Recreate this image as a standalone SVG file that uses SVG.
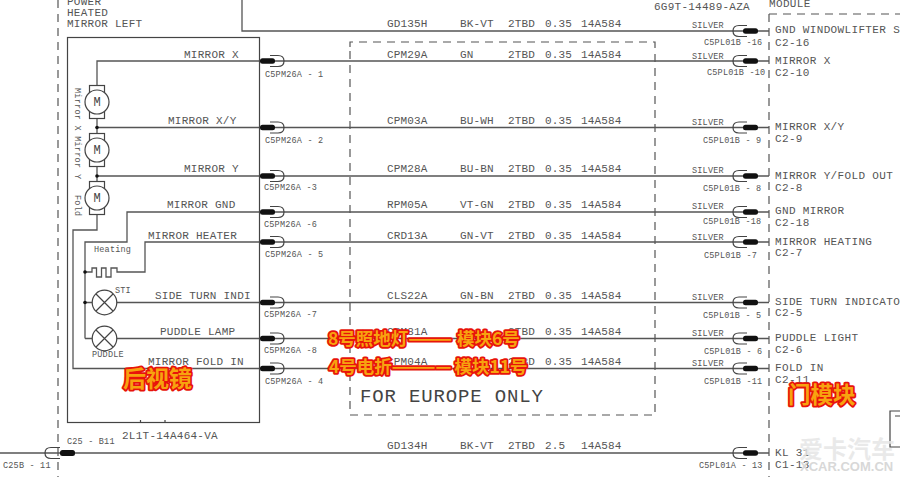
<svg xmlns="http://www.w3.org/2000/svg" width="900" height="477" viewBox="0 0 900 477">
<style>
text{font-family:"Liberation Mono","DejaVu Sans Mono",monospace;fill:#555}
.w{fill:none;stroke:#555;stroke-width:1.3}
.b{fill:none;stroke:#444;stroke-width:1.2}
.f{fill:#fff;stroke:#444;stroke-width:1.2}
.d{fill:none;stroke:#555;stroke-width:1.2;stroke-dasharray:8 6}
.l{font-size:11px;letter-spacing:.25px}
.s{font-size:8.5px;letter-spacing:.2px}
.r{font-size:11px;letter-spacing:.35px}
.wl{font-size:11px;letter-spacing:.15px}
.m{font-size:12px;fill:#444;text-anchor:middle}
.v{font-size:8.5px;letter-spacing:.25px}
.big{font-size:19px;letter-spacing:.85px;fill:#444}
.cn{font-family:"Noto Sans CJK SC",sans-serif;font-weight:700;fill:#f7a30f;stroke:#e8140a;stroke-width:3.6px;paint-order:stroke;stroke-linejoin:round}
</style>
<defs>
<g id="pl"><path d="M270-5.500h8q6 0 6 5.500t-6 5.500h-8" class="b"/><rect x="260" y="-2.800" width="15" height="5.600" rx="2.500" fill="#111"/></g>
<g id="pr"><path d="M747-5.500h-8q-6 0-6 5.500t6 5.500h8" class="b"/><rect x="743" y="-2.800" width="15" height="5.600" rx="2.500" fill="#111"/></g>
<g id="mot"><rect x="-7.500" y="-16.500" width="15" height="33" class="f"/><circle r="12" class="f"/><text y="4" class="m">M</text></g>
<g id="lamp"><circle r="12.300" class="f"/><path d="M-8.500-8.500 8.500 8.500M-8.500 8.500 8.500-8.500" class="b"/></g>
</defs>
<rect width="900" height="477" fill="#fff"/>
<g id="connectors">
<path class="d" d="M58 0V477"/>
<path class="d" d="M350 47V42H655V415H350V47"/>
<path class="d" d="M769 14H900M769 14V477"/>
<path class="w" d="M242 0V31H769"/>
<path class="w" d="M97 216V61H769M97 127.500H769M97 176H769"/>
<path class="w" d="M85 338.500V242H127V212H769"/>
<path class="w" d="M97 216V230H73V368.500H769"/>
<path class="w" d="M85 272H92V268H96.500V277H101.500V268H106V277H111V268H117V272H145V242H769"/>
<path class="w" d="M85 302.500H769M85 338.500H769"/>
<path class="w" d="M0 453H769"/>
<circle cx="97" cy="127.500" r="1.800" fill="#111"/><circle cx="97" cy="176" r="1.800" fill="#111"/>
<circle cx="85" cy="272" r="1.800" fill="#111"/><circle cx="85" cy="302.500" r="1.800" fill="#111"/>
</g>
<g id="mirror-housing">
<rect x="67.500" y="37.500" width="192" height="385" class="b"/>
<path class="b" d="M140.500 422V420M165 422V420"/>
<text x="122" y="439" class="l">2L1T-14A464-VA</text>
<text x="67" y="5" class="l">POWER</text><text x="67" y="16" class="l">HEATED</text><text x="67" y="27" class="l">MIRROR LEFT</text>
</g>
<g id="motors">
<use href="#mot" x="97" y="102"/><use href="#mot" x="97" y="150"/><use href="#mot" x="97" y="198"/>
<text class="v" transform="translate(75 88) rotate(90)">Mirror X Mirror</text>
<text class="v" transform="translate(75 174) rotate(90)">Y</text>
<text class="v" transform="translate(75 195) rotate(90)">Fold</text>
</g>
<g id="heater"><text x="94" y="252" class="s">Heating</text></g>
<g id="sti"><use href="#lamp" x="104.500" y="302.500"/><text x="115" y="293" class="s">STI</text></g>
<g id="puddle"><use href="#lamp" x="104.500" y="338.500"/><text x="92" y="357" class="s">PUDDLE</text></g>
<g id="mirror-labels">
<text x="184" y="58" class="l">MIRROR X</text>
<text x="168" y="124" class="l">MIRROR X/Y</text>
<text x="184" y="172" class="l">MIRROR Y</text>
<text x="167" y="208" class="l">MIRROR GND</text>
<text x="148" y="239" class="l">MIRROR HEATER</text>
<text x="155" y="299" class="l">SIDE TURN INDI</text>
<text x="160" y="335" class="l">PUDDLE LAMP</text>
<text x="148" y="365" class="l">MIRROR FOLD IN</text>
</g>
<g id="left-connectors">
<use href="#pl" y="61"/><use href="#pl" y="127.500"/><use href="#pl" y="176"/><use href="#pl" y="212"/><use href="#pl" y="242"/><use href="#pl" y="302.500"/><use href="#pl" y="338.500"/><use href="#pl" y="368.500"/>
<text x="265" y="77" class="s">C5PM26A - 1</text>
<text x="265" y="143" class="s">C5PM26A - 2</text>
<text x="264" y="190" class="s">C5PM26A -3</text>
<text x="264" y="227" class="s">C5PM26A -6</text>
<text x="265" y="257" class="s">C5PM26A - 5</text>
<text x="264" y="317" class="s">C5PM26A -7</text>
<text x="264" y="353" class="s">C5PM26A -8</text>
<text x="265" y="384" class="s">C5PM26A - 4</text>
</g>
<g id="wire-labels">
<text x="387" y="27" class="wl">GD135H</text><text x="460" y="27" class="wl">BK-VT</text><text x="508" y="27" class="wl">2TBD</text><text x="545" y="27" class="wl">0.35</text><text x="581" y="27" class="wl">14A584</text>
<text x="387" y="58" class="wl">CPM29A</text><text x="460" y="58" class="wl">GN</text><text x="508" y="58" class="wl">2TBD</text><text x="545" y="58" class="wl">0.35</text><text x="581" y="58" class="wl">14A584</text>
<text x="387" y="124" class="wl">CPM03A</text><text x="460" y="124" class="wl">BU-WH</text><text x="508" y="124" class="wl">2TBD</text><text x="545" y="124" class="wl">0.35</text><text x="581" y="124" class="wl">14A584</text>
<text x="387" y="172" class="wl">CPM28A</text><text x="460" y="172" class="wl">BU-BN</text><text x="508" y="172" class="wl">2TBD</text><text x="545" y="172" class="wl">0.35</text><text x="581" y="172" class="wl">14A584</text>
<text x="387" y="208" class="wl">RPM05A</text><text x="460" y="208" class="wl">VT-GN</text><text x="508" y="208" class="wl">2TBD</text><text x="545" y="208" class="wl">0.35</text><text x="581" y="208" class="wl">14A584</text>
<text x="387" y="239" class="wl">CRD13A</text><text x="460" y="239" class="wl">GN-VT</text><text x="508" y="239" class="wl">2TBD</text><text x="545" y="239" class="wl">0.35</text><text x="581" y="239" class="wl">14A584</text>
<text x="387" y="299" class="wl">CLS22A</text><text x="460" y="299" class="wl">GN-BN</text><text x="508" y="299" class="wl">2TBD</text><text x="545" y="299" class="wl">0.35</text><text x="581" y="299" class="wl">14A584</text>
<text x="387" y="335" class="wl">CPM81A</text><text x="508" y="335" class="wl">2TBD</text><text x="545" y="335" class="wl">0.35</text><text x="581" y="335" class="wl">14A584</text>
<text x="387" y="365" class="wl">CPM04A</text><text x="508" y="365" class="wl">2TBD</text><text x="545" y="365" class="wl">0.35</text><text x="581" y="365" class="wl">14A584</text>
<text x="387" y="449" class="wl">GD134H</text><text x="460" y="449" class="wl">BK-VT</text><text x="508" y="449" class="wl">2TBD</text><text x="545" y="449" class="wl">2.5</text><text x="581" y="449" class="wl">14A584</text>
<text x="360" y="402" class="big">FOR EUROPE ONLY</text>
</g>
<g id="right-connectors">
<text x="654" y="10" class="l">6G9T-14489-AZA</text>
<use href="#pr" y="31"/><use href="#pr" y="61"/><use href="#pr" y="127.500"/><use href="#pr" y="176"/><use href="#pr" y="212"/><use href="#pr" y="242"/><use href="#pr" y="302.500"/><use href="#pr" y="338.500"/><use href="#pr" y="368.500"/><use href="#pr" y="453"/>
<text x="692" y="28" class="s">SILVER</text><text x="704" y="45" class="s">C5PL01B -16</text>
<text x="692" y="59" class="s">SILVER</text><text x="707" y="75" class="s">C5PL01B -10</text>
<text x="692" y="125" class="s">SILVER</text><text x="703" y="143" class="s">C5PL01B - 9</text>
<text x="692" y="173" class="s">SILVER</text><text x="703" y="191" class="s">C5PL01B - 8</text>
<text x="692" y="209" class="s">SILVER</text><text x="703" y="224" class="s">C5PL01B -18</text>
<text x="692" y="240" class="s">SILVER</text><text x="704" y="258" class="s">C5PL01B -7</text>
<text x="692" y="300" class="s">SILVER</text><text x="703" y="318" class="s">C5PL01B - 5</text>
<text x="692" y="336" class="s">SILVER</text><text x="704" y="354" class="s">C5PL01B - 6</text>
<text x="692" y="366" class="s">SILVER</text><text x="704" y="384" class="s">C5PL01B -11</text>
<text x="699" y="468" class="s">C5PL01A - 13</text>
</g>
<g id="door-module">
<text x="769" y="7" class="r">MODULE</text>
<text x="775" y="33" class="r">GND WINDOWLIFTER S</text><text x="775" y="46" class="r">C2-16</text>
<text x="775" y="64" class="r">MIRROR X</text><text x="775" y="76" class="r">C2-10</text>
<text x="775" y="130" class="r">MIRROR X/Y</text><text x="775" y="142" class="r">C2-9</text>
<text x="775" y="179" class="r">MIRROR Y/FOLD OUT</text><text x="775" y="191" class="r">C2-8</text>
<text x="775" y="214" class="r">GND MIRROR</text><text x="775" y="226" class="r">C2-18</text>
<text x="775" y="245" class="r">MIRROR HEATING</text><text x="775" y="256" class="r">C2-7</text>
<text x="775" y="305" class="r">SIDE TURN INDICATO</text><text x="775" y="316" class="r">C2-5</text>
<text x="775" y="341" class="r">PUDDLE LIGHT</text><text x="775" y="353" class="r">C2-6</text>
<text x="775" y="371" class="r">FOLD IN</text><text x="775" y="383" class="r">C2-11</text>
<text x="775" y="456" class="r">KL 31</text><text x="775" y="468" class="r">C1-13</text>
<path class="b" d="M900 411H890V447H900M895 416H900"/>
</g>
<g id="bottom-splice">
<path d="M60 447.500H51q-6 0-6 5.500t6 5.500H60" class="b"/><rect x="60" y="450" width="15" height="6" rx="2.500" fill="#111"/>
<text x="67" y="444" class="s">C25 - B11</text><text x="3" y="468" class="s">C25B - 11</text>
</g>
<g id="annotations">
<text x="123" y="387" class="cn" style="font-size:23px">后视镜</text>
<text x="328" y="345" class="cn" style="font-size:17.500px">8号照地灯———<tspan dx="5">模块6号</tspan></text>
<text x="329" y="373" class="cn" style="font-size:17.500px">4号电折————<tspan dx="3">模块11号</tspan></text>
<text x="788" y="403" class="cn" style="font-size:22.500px">门模块</text>
</g>
<g id="watermark">
<text x="799" y="458" style="font-family:'Noto Sans CJK SC',sans-serif;font-size:24px;font-weight:700;fill:#e6e6e6;fill-opacity:.85">爱卡汽车</text>
<text x="800" y="470.500" style="font-family:'Liberation Sans',sans-serif;font-size:13px;font-weight:700;fill:#d8d8d8">XCAR.COM.CN</text>
</g>
</svg>
